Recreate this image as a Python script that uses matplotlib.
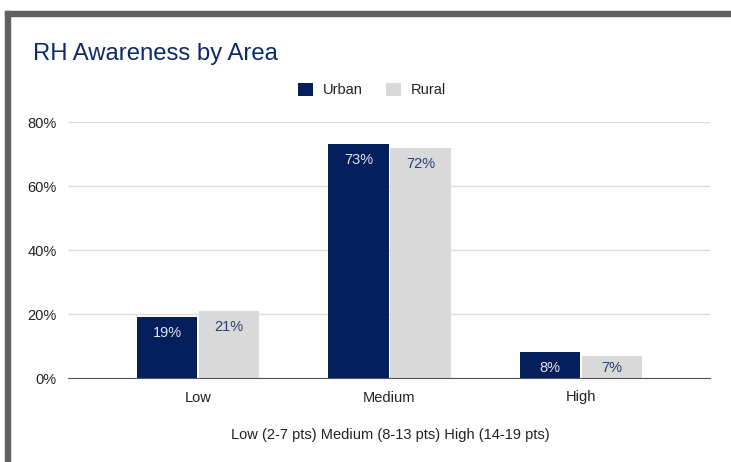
import matplotlib.pyplot as plt
from matplotlib.patches import Rectangle
from matplotlib.ticker import PercentFormatter
import numpy as np

plt.rcParams['font.family'] = ['Liberation Sans', 'DejaVu Sans']

# data
categories = ["Low", "Medium", "High"]
urban = [0.19, 0.73, 0.08]
rural = [0.21, 0.72, 0.07]
series_names = ["Urban", "Rural"]

navy = "#051f5c"
grey = "#d9d9d9"

fig = plt.figure(figsize=(7.31, 4.62), dpi=100)

# dark frame on top and left
fig.patches.append(Rectangle((5 / 731, 0), 5 / 731, 1 - 11 / 462, transform=fig.transFigure,
                             color="#616161", zorder=0))
fig.patches.append(Rectangle((5 / 731, 1 - 16 / 462), 1, 5 / 462, transform=fig.transFigure,
                             color="#616161", zorder=0))

ax = fig.add_axes([68 / 731, 1 - 378 / 462, (710 - 68) / 731, (378 - 122) / 462])

x = np.arange(len(categories))
w = 0.314
off = 0.162
b1 = ax.bar(x - off, urban, w, color=navy, zorder=3)
b2 = ax.bar(x + off, rural, w, color=grey, zorder=3)

# value labels inside the top of each bar
for rect, v in zip(b1, urban):
    ax.text(rect.get_x() + rect.get_width() / 2, v - 0.05, f"{round(v * 100)}%",
            ha="center", va="center", fontsize=10.5, color="#e6e6ee", zorder=4)
for rect, v in zip(b2, rural):
    ax.text(rect.get_x() + rect.get_width() / 2, max(v - 0.05, 0.032), f"{round(v * 100)}%",
            ha="center", va="center", fontsize=10.5, color="#2b3f73", zorder=4)

ax.set_xlim(-0.68, 2.675)
ax.set_ylim(0, 0.8)
ax.set_yticks([0, 0.2, 0.4, 0.6, 0.8])
ax.yaxis.set_major_formatter(PercentFormatter(1.0, decimals=0))
ax.set_xticks(x)
ax.set_xticklabels(categories)
ax.tick_params(axis="both", length=0, labelsize=10.5, colors="#222222")
ax.tick_params(axis="y", pad=8)
ax.tick_params(axis="x", pad=9)
ax.grid(axis="y", color="#dcdcdc", linewidth=1, zorder=0)
for s in ["top", "right", "left"]:
    ax.spines[s].set_visible(False)
ax.spines["bottom"].set_color("#555555")
ax.spines["bottom"].set_zorder(5)

ax.set_xlabel("Low (2-7 pts) Medium (8-13 pts) High (14-19 pts)", fontsize=10.5,
              color="#222222")
ax.xaxis.set_label_coords((390 - 68) / (710 - 68), -(428 - 378) / (378 - 122))

fig.text(33 / 731, 1 - 54 / 462, "RH Awareness by Area", fontsize=17.2, color="#0c2a6a",
         ha="left", va="center")

leg = fig.legend([b1, b2], series_names, loc="center", bbox_to_anchor=(372 / 731, 1 - 90 / 462),
                 ncol=2, frameon=False, fontsize=10.5, handlelength=1.0, handleheight=1.0,
                 columnspacing=1.6, handletextpad=0.7)
for t in leg.get_texts():
    t.set_color("#222222")

fig.savefig("out.png", dpi=100)
